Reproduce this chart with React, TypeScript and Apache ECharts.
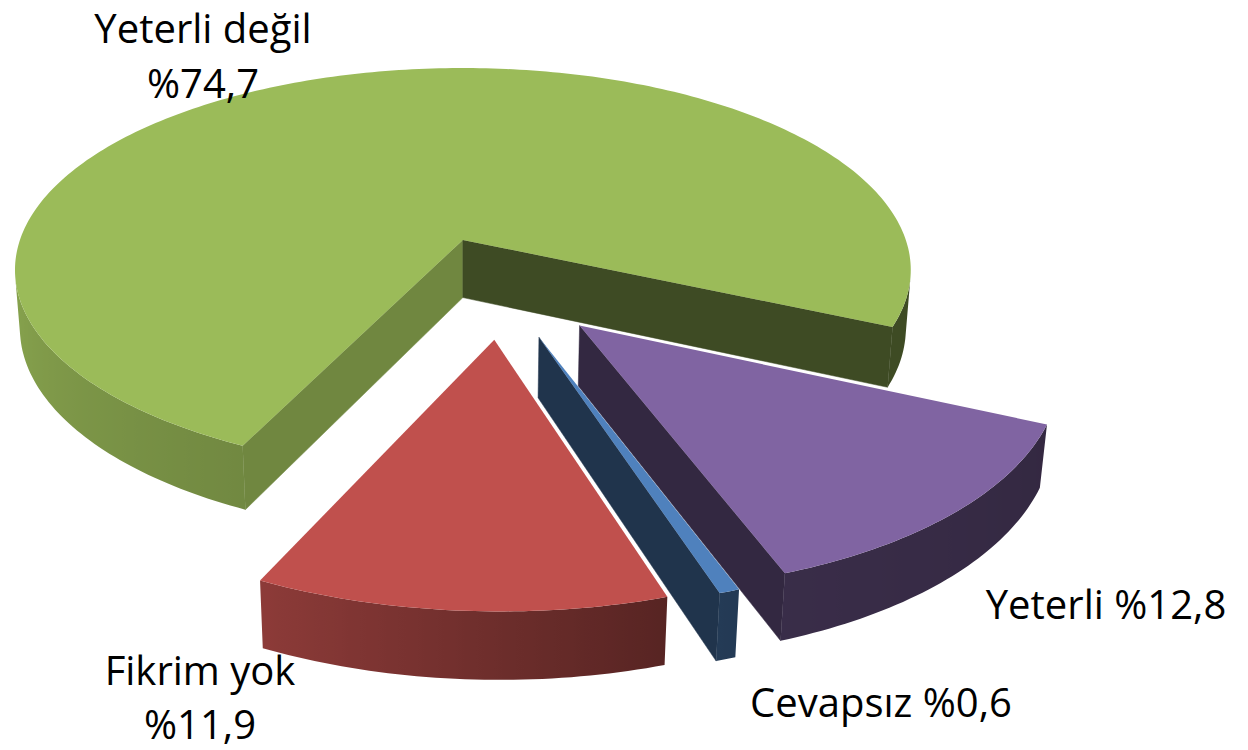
import React, { useEffect, useRef } from "react";
import * as echarts from "echarts";

// ---- data ----
const CATEGORIES = ["Yeterli değil", "Yeterli", "Cevapsız", "Fikrim yok"];
const PERCENTS = [74.7, 12.8, 0.6, 11.9];

// ---- styles ----
const TOP_COLORS = ["#9BBB59", "#8064A2", "#4F81BD", "#C0504D"];
const LABEL_LAYOUT = [
  { x: 203, y: [27, 82] },
  { x: 1106, y: [603] },
  { x: 881, y: [701] },
  { x: 200, y: [669, 723] },
];
const FONT = "40px 'Open Sans', 'Noto Sans', sans-serif";

// ---- 3D camera ----
const RAD = Math.PI / 180;
const CX = 463;
const CY = 240;
const SIN_A = 0.4458;
const COS_A = Math.sqrt(1 - SIN_A * SIN_A);
const DIST = 6.03;
const FOCAL = 2671;
const TARGET_X = -0.083;
const TARGET_Z = -0.228;
const CAM = [TARGET_X, DIST * SIN_A, TARGET_Z + DIST * COS_A];
const START_DEG = 115.5;
const EXPLODE = 0.243;
const HEIGHT = 0.147;

function project(X: number, Y: number, Z: number): number[] {
  const x = X - TARGET_X;
  const z = Z - TARGET_Z;
  const v = z * SIN_A - Y * COS_A;
  const w = z * COS_A + Y * SIN_A;
  const s = FOCAL / (DIST - w);
  return [CX + x * s, CY + v * s];
}

function shade(hex: string, b: number): string {
  const n = parseInt(hex.slice(1), 16);
  const r = Math.round(((n >> 16) & 255) * b);
  const g = Math.round(((n >> 8) & 255) * b);
  const bl = Math.round((n & 255) * b);
  return `rgb(${r},${g},${bl})`;
}

// brightness of the outer wall by angle (deg, clockwise on screen from right)
const WALL_SHADE = [
  [-90, 0.4],
  [24, 0.4],
  [72, 0.45],
  [115, 0.73],
  [180, 0.9],
  [270, 0.9],
];
function wallBrightness(deg: number): number {
  let d = ((deg % 360) + 360) % 360;
  if (d > 270) d -= 360;
  for (let i = 0; i < WALL_SHADE.length - 1; i++) {
    const [a0, b0] = WALL_SHADE[i];
    const [a1, b1] = WALL_SHADE[i + 1];
    if (d >= a0 && d <= a1) return b0 + ((d - a0) / (a1 - a0)) * (b1 - b0);
  }
  return 0.9;
}

function pctText(v: number): string {
  return "%" + v.toFixed(1).replace(".", ",");
}

function visible(n: number[], p: number[]): boolean {
  return n[0] * (CAM[0] - p[0]) + n[1] * (CAM[1] - p[1]) + n[2] * (CAM[2] - p[2]) > 0;
}

function renderItem(params: any, api: any) {
  const idx = params.dataIndex;
  const total = PERCENTS.reduce((a, b) => a + b, 0);
  let startDeg = START_DEG;
  for (let j = 0; j < idx; j++) startDeg += (PERCENTS[j] / total) * 360;
  const value = api.value(0);
  const span = (value / total) * 360;
  const a0 = startDeg * RAD;
  const a1 = (startDeg + span) * RAD;
  const mid = (a0 + a1) / 2;
  const ox = EXPLODE * Math.cos(mid);
  const oz = EXPLODE * Math.sin(mid);
  const steps = Math.max(2, Math.ceil(span / 1));
  const angles: number[] = [];
  for (let k = 0; k <= steps; k++) angles.push(a0 + ((a1 - a0) * k) / steps);
  const topArc = angles.map((t) => project(ox + Math.cos(t), 0, oz + Math.sin(t)));
  const botArc = angles.map((t) => project(ox + Math.cos(t), -HEIGHT, oz + Math.sin(t)));
  const apexT = project(ox, 0, oz);
  const apexB = project(ox, -HEIGHT, oz);
  const base = TOP_COLORS[idx % TOP_COLORS.length];
  const children: any[] = [];
  const zb = idx * 10;

  const radial = (t: number, normal: number[], b: number) => {
    const p = [ox + 0.5 * Math.cos(t), -HEIGHT / 2, oz + 0.5 * Math.sin(t)];
    if (!visible(normal, p)) return;
    const c = shade(base, b);
    children.push({
      type: "polygon",
      z2: zb + 1,
      shape: {
        points: [
          apexT,
          project(ox + Math.cos(t), 0, oz + Math.sin(t)),
          project(ox + Math.cos(t), -HEIGHT, oz + Math.sin(t)),
          apexB,
        ],
      },
      style: { fill: c, stroke: c, lineWidth: 0.5 },
    });
  };
  radial(a0, [Math.sin(a0), 0, -Math.cos(a0)], 0.72);
  radial(a1, [-Math.sin(a1), 0, Math.cos(a1)], 0.4);

  // outer wall
  let run: number[] = [];
  const flush = () => {
    if (run.length >= 2) {
      const pts = run.map((k) => topArc[k]).concat(run.slice().reverse().map((k) => botArc[k]));
      const xs = run.map((k) => topArc[k][0]);
      const xmin = Math.min(...xs);
      const xmax = Math.max(...xs);
      const w = Math.max(1, xmax - xmin);
      const stops = run
        .map((k) => ({
          offset: Math.min(1, Math.max(0, (topArc[k][0] - xmin) / w)),
          color: shade(base, wallBrightness(angles[k] / RAD)),
        }))
        .sort((a, b) => a.offset - b.offset);
      const grad = new echarts.graphic.LinearGradient(xmin, 0, xmin + w, 0, stops, true);
      children.push({
        type: "polygon",
        z2: zb + 2,
        shape: { points: pts },
        style: { fill: grad },
      });
    }
    run = [];
  };
  for (let k = 0; k < steps; k++) {
    const tm = (angles[k] + angles[k + 1]) / 2;
    const n = [Math.cos(tm), 0, Math.sin(tm)];
    const p = [ox + Math.cos(tm), -HEIGHT / 2, oz + Math.sin(tm)];
    if (visible(n, p)) {
      if (run.length === 0) run.push(k);
      run.push(k + 1);
    } else {
      flush();
    }
  }
  flush();

  // top face
  children.push({
    type: "polygon",
    z2: zb + 3,
    shape: { points: [apexT, ...topArc] },
    style: { fill: base },
  });

  // label
  const lay = LABEL_LAYOUT[idx];
  const name = CATEGORIES[idx];
  const lines = lay.y.length === 2 ? [name, pctText(value)] : [name + " " + pctText(value)];
  lines.forEach((txt, li) => {
    children.push({
      type: "text",
      z2: 100,
      x: lay.x,
      y: lay.y[li],
      style: {
        text: txt,
        fill: "#000",
        font: FONT,
        lineHeight: 40,
        align: "center",
        verticalAlign: "middle",
      },
    });
  });

  return { type: "group", children };
}

export default function App() {
  const ref = useRef<HTMLDivElement>(null);
  useEffect(() => {
    if (!ref.current) return;
    const chart = echarts.init(ref.current, undefined, { renderer: "svg" });
    chart.setOption({
      animation: false,
      backgroundColor: "#ffffff",
      series: [
        {
          type: "custom",
          coordinateSystem: "none",
          silent: true,
          renderItem,
          data: PERCENTS.map((v, i) => ({ name: CATEGORIES[i], value: [v] })),
        },
      ],
    });
    return () => chart.dispose();
  }, []);
  return (
    <div
      ref={ref}
      style={{ position: "fixed", left: 0, top: 0, width: 1248, height: 750 }}
    />
  );
}
